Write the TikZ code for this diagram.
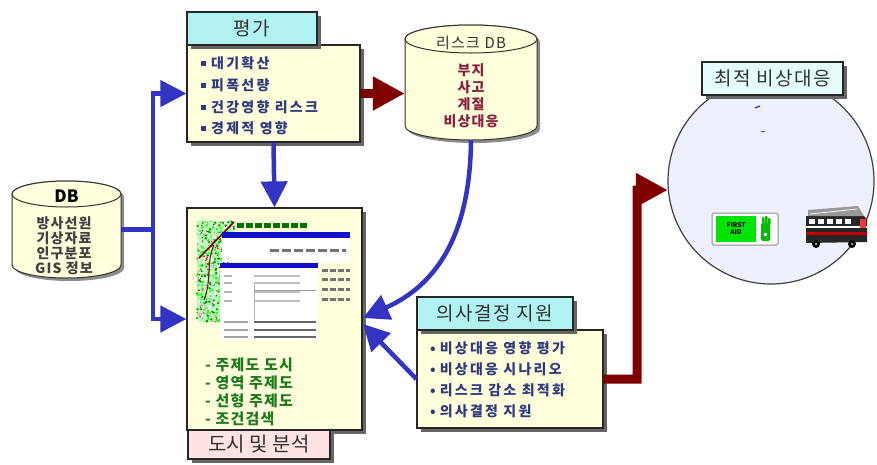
\documentclass[tikz,border=0pt]{standalone}
\usepackage{fontspec}
\setmainfont{Noto Sans CJK KR}
\newfontfamily\krsp[LetterSpace=16]{Noto Sans CJK KR}
\newfontfamily\krmid[LetterSpace=8]{Noto Sans CJK KR}
\usetikzlibrary{arrows.meta,shadows}

\definecolor{boxyellow}{HTML}{FFFFDC}
\definecolor{titlecyan}{HTML}{B0F2F2}
\definecolor{titlelight}{HTML}{E4FCFC}
\definecolor{titlepink}{HTML}{FFE2E2}
\definecolor{flowblue}{HTML}{3434C4}
\definecolor{flowred}{HTML}{800000}
\definecolor{itemnavy}{HTML}{303A80}
\definecolor{itemgreen}{HTML}{1E7A1E}
\definecolor{itemmaroon}{HTML}{8A2040}
\definecolor{circfill}{HTML}{EEF0FF}
\definecolor{shotblue}{HTML}{1010C8}

\newcommand{\sqbul}{\textcolor{itemnavy}{\raisebox{2.5pt}{\rule{5pt}{5pt}}}\hspace{5pt}}
\newcommand{\rdbul}{\textcolor{itemnavy}{\textbullet}\hspace{4pt}}

\begin{document}
\begin{tikzpicture}[x=1pt,y=-1pt,
  panel/.style={draw=black!85, line width=1.2pt, fill=boxyellow, inner sep=0pt,
    drop shadow={shadow xshift=3.5pt, shadow yshift=-3.5pt, fill=black!60, opacity=1}},
  titlebox/.style={draw=black!85, line width=1.2pt, inner sep=0pt, text=black!80,
    drop shadow={shadow xshift=3.5pt, shadow yshift=-3.5pt, fill=black!60, opacity=1},
    font=\fontsize{19}{21}\selectfont\krmid},
  itemtxt/.style={anchor=west, inner sep=0pt, text=itemnavy, font=\fontsize{14}{16}\selectfont\krsp\bfseries},
  greentxt/.style={anchor=west, inner sep=0pt, text=itemgreen, font=\fontsize{15}{17}\selectfont\krmid\bfseries},
  drumtxt/.style={inner sep=0pt, font=\fontsize{14}{15}\selectfont\krmid},
  drum/.style={fill=boxyellow, draw=black!80, line width=1pt},
  drumshade/.style={fill=black!45},
  flowline/.style={draw=flowblue, line width=4.5pt},
  flowb/.style={flowline, -{Triangle[length=26pt,width=26pt]}},
  flowr/.style={draw=flowred, line width=9pt, -{Triangle[length=32pt,width=32pt]}}]

\useasboundingbox (0,0) rectangle (877,464);
\fill[white] (0,0) rectangle (877,464);

% ---------- source database drum ----------
\path[drumshade] (15,197) -- (15,268) arc[start angle=180,end angle=0,x radius=54.5,y radius=13]
  -- (124,197) arc[start angle=0,end angle=-180,x radius=54.5,y radius=13] -- cycle;
\path[drum] (12,194) -- (12,265) arc[start angle=180,end angle=0,x radius=54.5,y radius=13]
  -- (121,194) arc[start angle=0,end angle=-180,x radius=54.5,y radius=13] -- cycle;
\draw[drum] (66.5,194) ellipse[x radius=54.5,y radius=13];
\node[inner sep=0pt, minimum width=109pt, minimum height=97pt] (db) at (66.5,229.5) {};
\node[drumtxt, font=\fontsize{17}{18}\selectfont\bfseries] (dbname) at (66.5,196) {DB};
\node[drumtxt, text=black!75, font=\fontsize{14}{15}\selectfont\krmid\bfseries] (db1) at (64,223) {방사선원};
\node[drumtxt, text=black!75, font=\fontsize{14}{15}\selectfont\krmid\bfseries] (db2) at (64,238) {기상자료};
\node[drumtxt, text=black!75, font=\fontsize{14}{15}\selectfont\krmid\bfseries] (db3) at (64,253) {인구분포};
\node[drumtxt, text=black!75, font=\fontsize{14}{15}\selectfont\krmid\bfseries] (db4) at (64,268) {GIS 정보};

% ---------- risk database drum ----------
\path[drumshade] (408,42) -- (408,129) arc[start angle=180,end angle=0,x radius=66,y radius=14]
  -- (540,42) arc[start angle=0,end angle=-180,x radius=66,y radius=14] -- cycle;
\path[drum] (405,39) -- (405,126) arc[start angle=180,end angle=0,x radius=66,y radius=14]
  -- (537,39) arc[start angle=0,end angle=-180,x radius=66,y radius=14] -- cycle;
\draw[drum] (471,39) ellipse[x radius=66,y radius=14];
\node[inner sep=0pt, minimum width=132pt, minimum height=115pt] (rdb) at (471,82.5) {};
\node[drumtxt, text=black!80, font=\fontsize{15}{16}\selectfont\krmid] (rdbname) at (471,43) {리스크 DB};
\node[drumtxt, text=itemmaroon, font=\fontsize{14}{15}\selectfont\krmid\bfseries] (rdb1) at (471,70) {부지};
\node[drumtxt, text=itemmaroon, font=\fontsize{14}{15}\selectfont\krmid\bfseries] (rdb2) at (471,87) {사고};
\node[drumtxt, text=itemmaroon, font=\fontsize{14}{15}\selectfont\krmid\bfseries] (rdb3) at (471,104) {계절};
\node[drumtxt, text=itemmaroon, font=\fontsize{14}{15}\selectfont\krmid\bfseries] (rdb4) at (471,121) {비상대응};

% ---------- evaluation panel ----------
\node[panel, minimum width=173pt, minimum height=97pt] (pgbody) at (273.5,93.5) {};
\node[itemtxt] (pg1) at (201,63) {\sqbul 대기확산};
\node[itemtxt] (pg2) at (201,85) {\sqbul 피폭선량};
\node[itemtxt] (pg3) at (201,107) {\sqbul 건강영향 리스크};
\node[itemtxt] (pg4) at (201,128) {\sqbul 경제적 영향};
\node[titlebox, fill=titlecyan, minimum width=130pt, minimum height=33pt] (pgtitle) at (252,28.5) {평가};

% ---------- mapping and analysis panel ----------
\node[panel, minimum width=175pt, minimum height=222pt] (dsbody) at (274.5,319) {};
% screen capture of the mapping program
\fill[green!30] (197,221) rectangle (234,322);
\pgfmathsetseed{7}
\foreach \i in {1,...,520}{
  \pgfmathsetmacro{\px}{197+37*rnd}
  \pgfmathsetmacro{\py}{221+101*rnd}
  \pgfmathsetmacro{\pc}{int(5*rnd)}
  \ifnum\pc=0 \fill[green!55!black] (\px,\py) circle (1.2pt);\fi
  \ifnum\pc=1 \fill[white] (\px,\py) circle (1.4pt);\fi
  \ifnum\pc=2 \fill[green!85] (\px,\py) circle (1.3pt);\fi
  \ifnum\pc=3 \fill[red!45!purple] (\px,\py) circle (0.8pt);\fi
  \ifnum\pc=4 \fill[black!40] (\px,\py) circle (0.8pt);\fi
}
\draw[red!50!black, line width=1.6pt] (199,258) -- (234,222);
\draw[purple!70!black, line width=1pt] (204,300) .. controls (212,280) and (206,262) .. (214,245);
\draw[green!45!black, line width=5pt, dash pattern=on 7pt off 2pt] (237,225) -- (307,225);
\fill[shotblue] (222,232) rectangle (350,238);
\fill[white] (222,238) rectangle (350,262);
\draw[black!55, line width=3pt, dash pattern=on 9pt off 3pt] (270,250) -- (346,250);
\fill[shotblue] (220,263) rectangle (318,268);
\fill[white] (220,268) rectangle (318,340);
\foreach \yy in {270,279,289,299}{
  \draw[black!55, line width=3pt, dash pattern=on 6pt off 2pt] (322,\yy) -- (350,\yy);
}
\foreach \yy in {276,283,292,301}{
  \draw[black!30, line width=1.5pt] (224,\yy) -- (232,\yy);
  \draw[black!25, line width=1.2pt] (254,\yy) -- (300,\yy);
}
\draw[black!40, line width=0.8pt] (254,290) -- (316,290);
\draw[black!30, line width=0.6pt] (254,284) -- (254,320);
\foreach \yy in {322,330,337}{
  \draw[black!35, line width=1.5pt] (224,\yy) -- (248,\yy);
  \draw[black!60, line width=1.4pt] (254,\yy) -- (316,\yy);
}
\node[greentxt] (ds1) at (205,365) {- 주제도 도시};
\node[greentxt] (ds2) at (205,383) {- 영역 주제도};
\node[greentxt] (ds3) at (205,401) {- 선형 주제도};
\node[greentxt] (ds4) at (205,419) {- 조건검색};
\node[titlebox, fill=titlepink, minimum width=142pt, minimum height=29pt,
  font=\fontsize{20}{22}\selectfont] (dstitle) at (259,444.5) {도시 및 분석};

% ---------- decision support panel ----------
\node[panel, minimum width=186pt, minimum height=98pt] (dmbody) at (510,379) {};
\node[itemtxt] (dm1) at (430,348) {\rdbul 비상대응 영향 평가};
\node[itemtxt] (dm2) at (430,369) {\rdbul 비상대응 시나리오};
\node[itemtxt] (dm3) at (430,390) {\rdbul 리스크 감소 최적화};
\node[itemtxt] (dm4) at (430,411) {\rdbul 의사결정 지원};
\node[titlebox, fill=titlecyan, minimum width=156pt, minimum height=33pt] (dmtitle) at (495,313.5) {의사결정 지원};

% ---------- optimal emergency response ----------
\node[circle, draw=black!75, line width=1.2pt, fill=circfill, minimum size=206pt, inner sep=0pt] (circ) at (771,181) {};
\draw[blue, line width=1pt] (755,108) -- (760,106);
\draw[blue!70, line width=0.8pt] (761,131) -- (765,131);
% first aid sign
\node[draw=black!45, line width=1pt, fill=white, rounded corners=1.5pt,
  minimum width=66pt, minimum height=32pt, inner sep=0pt] (aid) at (745,229) {};
\node[fill=green!90!black, minimum width=40pt, minimum height=26pt, inner sep=0pt,
  align=center, font=\fontsize{6.5}{7}\selectfont\bfseries] (aidtxt) at (736,229) {FIRST\\AID};
\fill[green!75!black, rounded corners=1.5pt] (761,223) rectangle (770,241);
\fill[green!75!black, rounded corners=0.8pt] (762,217) rectangle (764.5,225);
\fill[green!75!black, rounded corners=0.8pt] (765,216) rectangle (767.5,225);
\fill[green!75!black, rounded corners=0.8pt] (768,218) rectangle (770.5,225);
\fill[white] (764,233) rectangle (767,236);
% fire engine
\fill[black!85] (806,216) -- (864,216) -- (867,220) -- (867,242) -- (806,243) -- cycle;
\fill[black!40] (808,210) -- (858,206) -- (864,216) -- (808,216) -- cycle;
\draw[white, line width=0.8pt] (810,214) -- (857,209);
\foreach \wx in {809,818,827,836,845}{ \fill[white] (\wx,219) rectangle ++(6,5); }
\fill[red!75!black] (806,232) rectangle (867,235);
\fill[white] (806,226) rectangle (867,227.5);
\fill[red!80] (860,219) rectangle (866,228);
\fill[black] (816,244) circle (4pt);
\fill[black] (852,244) circle (4pt);
\fill[black!40] (816,244) circle (1.5pt);
\fill[black!40] (852,244) circle (1.5pt);
\node[titlebox, fill=titlelight, minimum width=141pt, minimum height=33pt] (ctitle) at (772.5,78.5) {최적 비상대응};

% ---------- connectors ----------
\coordinate (jn) at (153,229.5);
\draw[flowline] (db.east) -- (jn);
\draw[flowb] (jn) |- (pgbody.west);
\draw[flowb] (jn) |- (dsbody.west);
\draw[flowb] (pgbody.south) -- (dsbody.north);
\draw[flowr] (pgbody.east) -- (pgbody.east -| rdb.west);
\coordinate (dsin1) at (363,318);
\coordinate (dsin2) at (363,324);
\draw[flowb] (rdb.south) .. controls (470,250) and (425,290) .. (dsin1);
\draw[flowb] (dmbody.west) -- (dsin2);
\coordinate (rbend) at (637,190);
\draw[flowr, line join=miter] (dmbody.east) -| (rbend) -- (circ.185);
\end{tikzpicture}
\end{document}
